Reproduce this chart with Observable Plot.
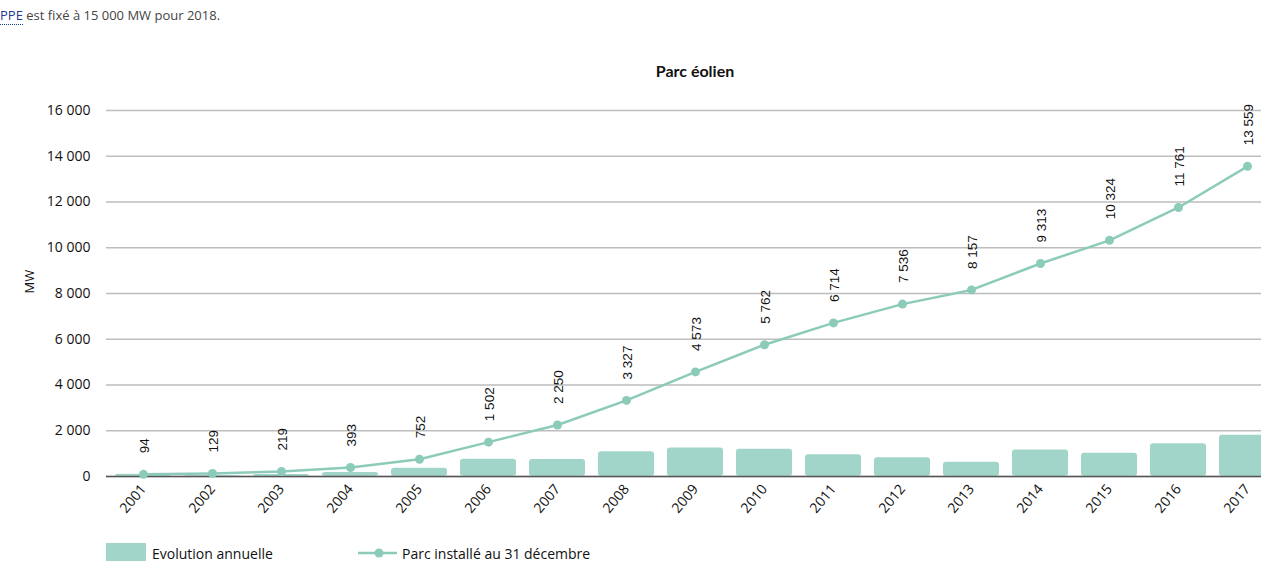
<!DOCTYPE html>
<html lang="fr">
<head>
<meta charset="utf-8">
<script src="https://cdn.jsdelivr.net/npm/d3@7"></script>
<script src="https://cdn.jsdelivr.net/npm/@observablehq/plot@0.6"></script>
<style>
  html, body { margin: 0; padding: 0; background: #fff; overflow: hidden; width: 1261px; height: 561px; }
  #wrap { position: relative; width: 1261px; height: 561px; overflow: hidden; }
  #chart { position: absolute; left: 0; top: 0; width: 1290px; }
  #chart svg { max-width: none !important; }
  #intro { position: absolute; left: 0; top: 6px; font: 13px "Open Sans", sans-serif; color: #444; white-space: nowrap; }
  #intro .lnk { color: #1d3d8f; border-bottom: 1px dotted #1d3d8f; }
  #title { position: absolute; left: 695px; top: 61px; transform: translateX(-50%); font: bold 16px Lato, sans-serif; color: #111; white-space: nowrap; }
  .leg { position: absolute; top: 543px; font: 14px "Open Sans", sans-serif; color: #111; white-space: nowrap; display: flex; align-items: center; }
</style>
</head>
<body>
<div id="wrap">
  <div id="intro"><span class="lnk">PPE</span> est fixé à 15 000 MW pour 2018.</div>
  <div id="title">Parc éolien</div>
  <div id="chart"></div>
  <div class="leg" style="left:106px">
    <span style="display:inline-block;width:40px;height:20px;background:#a2d5c9;margin-right:6px"></span>Evolution annuelle
  </div>
  <div class="leg" style="left:358px">
    <svg width="40" height="20" style="margin-right:4px"><line x1="0" x2="39" y1="10" y2="10" stroke="#8ccbb9" stroke-width="2.5"/><circle cx="21" cy="10" r="4.5" fill="#8ccbb9"/></svg>Parc installé au 31 décembre
  </div>
</div>
<script>
// Parc éolien installé au 31 décembre (MW) et évolution annuelle
const years = ["2001","2002","2003","2004","2005","2006","2007","2008","2009","2010","2011","2012","2013","2014","2015","2016","2017"];
const parcInstalle = [94, 129, 219, 393, 752, 1502, 2250, 3327, 4573, 5762, 6714, 7536, 8157, 9313, 10324, 11761, 13559];
const evolutionAnnuelle = [94, 35, 90, 174, 359, 750, 748, 1077, 1246, 1189, 952, 822, 621, 1156, 1011, 1437, 1798];
const yTicks = [0, 2000, 4000, 6000, 8000, 10000, 12000, 14000, 16000];

const barColor = "#a2d5c9";
const lineColor = "#8ccbb9";
// French thousands separator
const fmt = v => d3.format(",")(v).replace(/,/g, "\u00a0");

const rows = years.map((year, i) => ({
  year,
  parc: parcInstalle[i],
  evolution: evolutionAnnuelle[i]
}));

const chart = Plot.plot({
  width: 1290,
  height: 561,
  marginLeft: 106,
  marginRight: 7,
  marginTop: 110,
  marginBottom: 85,
  style: { fontFamily: "'Open Sans', sans-serif", fontSize: "14px", color: "#111", background: "transparent", overflow: "visible", maxWidth: "none" },
  x: { type: "band", domain: years, paddingInner: 0.19, paddingOuter: 0.095 },
  y: { domain: [0, 16000] },
  marks: [
    Plot.gridY(yTicks, { stroke: "#bdbdbd", strokeOpacity: 1, strokeWidth: 1.6 }),
    Plot.axisY(yTicks, {
      tickSize: 0, tickPadding: 16, tickFormat: fmt, fontSize: 14,
      label: null
    }),
    Plot.text(["MW"], {
      frameAnchor: "left", dx: -77, rotate: -90, fontSize: 13, fill: "#111"
    }),
    Plot.barY(rows, { x: "year", y: "evolution", fill: barColor, rx: 3 }),
    Plot.ruleY([0], { stroke: "#555", strokeWidth: 1.6 }),
    Plot.line(rows, { x: "year", y: "parc", stroke: lineColor, strokeWidth: 2.5 }),
    Plot.dot(rows, { x: "year", y: "parc", fill: lineColor, r: 4.5 }),
    Plot.text(rows, {
      x: "year", y: "parc", text: d => fmt(d.parc),
      rotate: -90, textAnchor: "start", dy: -21, dx: 1,
      fontFamily: "'Liberation Sans', Arial, sans-serif", fontSize: 13.5, fill: "#111"
    }),
    Plot.axisX({
      tickSize: 0, tickPadding: 10, tickRotate: -50, fontSize: 14, label: null
    })
  ]
});
chart.style.maxWidth = "none";
document.getElementById("chart").appendChild(chart);
</script>
</body>
</html>
